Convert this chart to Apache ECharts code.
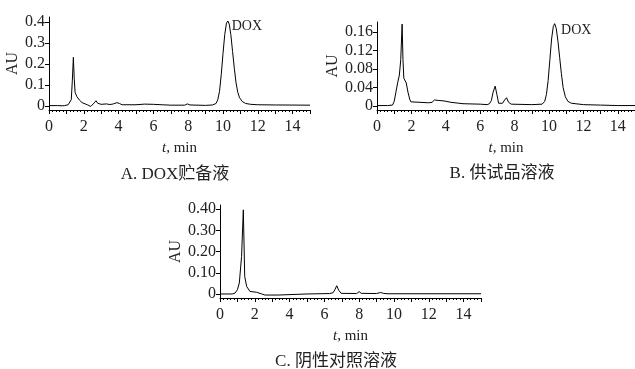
<!DOCTYPE html>
<html>
<head>
<meta charset="utf-8">
<script src="https://cdn.jsdelivr.net/npm/echarts@6/dist/echarts.min.js"></script>
<style>
  html, body { margin: 0; padding: 0; background: #fff; }
  #main { width: 635px; height: 369px; }
</style>
</head>
<body>
<div id="main"></div>
<script>
// 色谱图数据 [t(min), AU]
var dataA = [
  [0, 0.002], [0.5, 0.002], [0.75, 0.001], [0.82, 0.006], [0.9, 0.002], [1.1, 0.006], [1.2, 0.015],
  [1.28, 0.03], [1.34, 0.12], [1.4, 0.232], [1.45, 0.13], [1.5, 0.065], [1.6, 0.045],
  [1.75, 0.028], [1.9, 0.016], [2.0, 0.012], [2.2, 0.006], [2.4, -0.002], [2.5, 0.0],
  [2.6, 0.015], [2.7, 0.025], [2.8, 0.013], [3.0, 0.008], [3.3, 0.01], [3.5, 0.007],
  [3.7, 0.01], [3.9, 0.016], [4.05, 0.012], [4.2, 0.006], [5.0, 0.006], [5.5, 0.009],
  [6.0, 0.008], [6.5, 0.006], [7.0, 0.004], [7.8, 0.004], [7.95, 0.01], [8.1, 0.005],
  [9.0, 0.003], [9.4, 0.005], [9.5, 0.006], [9.6, 0.012], [9.7, 0.03], [9.8, 0.07],
  [9.9, 0.15], [10.0, 0.25], [10.1, 0.34], [10.2, 0.395], [10.28, 0.405], [10.36, 0.39],
  [10.45, 0.34], [10.55, 0.26], [10.65, 0.18], [10.75, 0.11], [10.85, 0.065], [10.95, 0.04],
  [11.1, 0.022], [11.3, 0.012], [11.6, 0.008], [12.0, 0.006], [13.0, 0.005], [15, 0.004]
];
var dataB = [
  [0, 0.001], [0.6, 0.001], [0.9, 0.002], [1.0, 0.01], [1.1, 0.03], [1.2, 0.05],
  [1.3, 0.067], [1.38, 0.1], [1.46, 0.177], [1.51, 0.1], [1.56, 0.06], [1.63, 0.06],
  [1.7, 0.05], [1.8, 0.03], [1.9, 0.015], [1.97, 0.009], [2.5, 0.008], [3.0, 0.007],
  [3.2, 0.008], [3.34, 0.013], [3.6, 0.012], [3.9, 0.011], [4.3, 0.008], [5.0, 0.005],
  [6.0, 0.004], [6.4, 0.003], [6.54, 0.005], [6.65, 0.012], [6.75, 0.03], [6.87, 0.043],
  [6.97, 0.025], [7.07, 0.006], [7.3, 0.006], [7.42, 0.013], [7.53, 0.018], [7.65, 0.008],
  [7.8, 0.004], [9.0, 0.003], [9.6, 0.004], [9.75, 0.01], [9.85, 0.025], [9.95, 0.055],
  [10.05, 0.1], [10.15, 0.145], [10.25, 0.172], [10.33, 0.178], [10.42, 0.168], [10.52, 0.14],
  [10.62, 0.105], [10.72, 0.07], [10.82, 0.04], [10.95, 0.02], [11.1, 0.01], [11.3, 0.006],
  [12.0, 0.003], [13.0, 0.002], [14.0, 0.001], [15, 0.001]
];
var dataC = [
  [0, 0.0], [0.7, 0.0], [0.86, 0.004], [1.0, 0.02], [1.11, 0.052], [1.24, 0.177],
  [1.34, 0.397], [1.42, 0.083], [1.53, 0.036], [1.72, 0.012], [2.1, 0.008], [2.4, 0.0],
  [2.58, -0.005], [3.34, -0.005], [3.4, 0.0], [5.0, 0.0], [5.1, 0.002], [6.3, 0.002],
  [6.5, 0.006], [6.6, 0.02], [6.71, 0.039], [6.82, 0.018], [6.96, 0.003], [7.85, 0.002],
  [8.0, 0.011], [8.12, 0.003], [9.0, 0.002], [9.22, 0.007], [9.4, 0.003], [9.6, 0.001],
  [15, 0.001]
];

var xLabels = [0, 2, 4, 6, 8, 10, 12, 14];
var yLabelsA = [0, 0.1, 0.2, 0.3, 0.4];
var yLabelsB = [0, 0.04, 0.08, 0.12, 0.16];
var yLabelsC = [0, 0.1, 0.2, 0.3, 0.4];
var captions = ['A. DOX贮备液', 'B. 供试品溶液', 'C. 阴性对照溶液'];

var serif = '"Liberation Serif", "Noto Sans CJK SC", serif';
var textColor = '#222';

var chartDom = document.getElementById('main');
var myChart = echarts.init(chartDom);

function makeX(gi) {
  return {
    type: 'value', gridIndex: gi, min: 0, max: 15, interval: 1,
    name: '{i|t}, min', nameLocation: 'middle', nameGap: 31,
    nameTextStyle: {
      color: textColor, fontFamily: serif, fontSize: 15,
      rich: { i: { fontStyle: 'italic', fontFamily: serif, fontSize: 15, color: textColor } }
    },
    axisLine: { onZero: false, lineStyle: { color: '#000', width: 1 } },
    axisTick: { show: true, inside: false, length: 4, lineStyle: { color: '#000' } },
    minorTick: { show: true, splitNumber: 5, length: 2, lineStyle: { color: '#000' } },
    axisLabel: {
      customValues: xLabels, margin: 9, color: textColor, fontFamily: serif, fontSize: 16
    },
    splitLine: { show: false }
  };
}

function makeY(gi, min, max, vals, digits, gap) {
  return {
    type: 'value', gridIndex: gi, min: min, max: max,
    name: 'AU', nameLocation: 'middle', nameRotate: 90, nameGap: gap,
    nameTextStyle: { color: textColor, fontFamily: serif, fontSize: 16 },
    axisLine: { show: true, lineStyle: { color: '#000', width: 1 } },
    axisTick: { show: true, customValues: vals, length: 4, lineStyle: { color: '#000' } },
    axisLabel: {
      customValues: vals, margin: 4, color: textColor, fontFamily: serif, fontSize: 16,
      formatter: function (v) { return v === 0 ? '0' : v.toFixed(digits); }
    },
    splitLine: { show: false }
  };
}

function makeLine(idx, data) {
  return {
    type: 'line', xAxisIndex: idx, yAxisIndex: idx, data: data,
    showSymbol: false, symbol: 'none', smooth: false, animation: false,
    lineStyle: { color: '#000', width: 1 }
  };
}

var option = {
  backgroundColor: '#fff',
  animation: false,
  grid: [
    { left: 49, top: 17, width: 261, height: 93 },
    { left: 377, top: 22, width: 258, height: 88 },
    { left: 220, top: 205, width: 261, height: 93 }
  ],
  xAxis: [makeX(0), makeX(1), makeX(2)],
  yAxis: [
    makeY(0, -0.019, 0.424, yLabelsA, 1, 25),
    makeY(1, -0.0086, 0.1816, yLabelsB, 2, 34),
    makeY(2, -0.019, 0.42, yLabelsC, 2, 32)
  ],
  series: [makeLine(0, dataA), makeLine(1, dataB), makeLine(2, dataC)]
};
myChart.setOption(option);

// 标注和图题
var pA = myChart.convertToPixel({ gridIndex: 0 }, [10.5, 0.38]);
var pB = myChart.convertToPixel({ gridIndex: 1 }, [10.7, 0.164]);
function txt(x, y, text, size, align) {
  return {
    type: 'text', x: x, y: y,
    style: {
      text: text, fill: textColor, font: size + 'px ' + serif,
      textAlign: align, textVerticalAlign: 'middle'
    }
  };
}
myChart.setOption({
  graphic: [
    txt(pA[0], pA[1], 'DOX', 14, 'left'),
    txt(pB[0], pB[1], 'DOX', 14, 'left'),
    txt(175, 175, captions[0], 17, 'center'),
    txt(502, 174, captions[1], 17, 'center'),
    txt(336, 362, captions[2], 17, 'center')
  ]
});
</script>
</body>
</html>
